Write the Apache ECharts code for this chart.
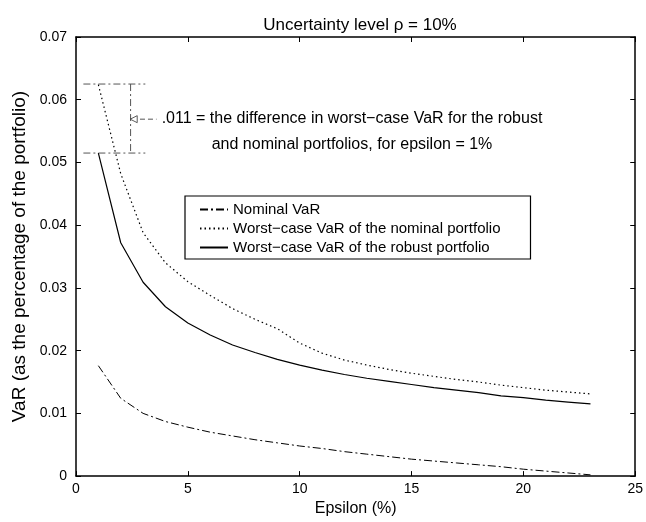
<!DOCTYPE html>
<html>
<head>
<meta charset="utf-8">
<script src="https://cdn.jsdelivr.net/npm/echarts@6/dist/echarts.min.js"></script>
<style>html,body{margin:0;padding:0;background:#fff}#c{width:646px;height:522px}</style>
</head>
<body>
<div id="c"></div>
<script>
const epsilon = [1,2,3,4,5,6,7,8,9,10,11,12,13,14,15,16,17,18,19,20,21,22,23];
const nominalVaR = [0.0176,0.0124,0.0100,0.0087,0.0078,0.0070,0.0064,0.0058,0.0053,0.0048,0.0044,0.0039,0.0035,0.0031,0.0027,0.0024,0.0021,0.0018,0.0015,0.0011,0.0008,0.0005,0.0002];
const worstNominal = [0.0624,0.0482,0.0388,0.0340,0.0310,0.0288,0.0267,0.0250,0.0235,0.0212,0.0196,0.0185,0.0177,0.0170,0.0164,0.0159,0.0154,0.0150,0.0145,0.0141,0.0137,0.0134,0.0131];
const worstRobust = [0.0515,0.0372,0.0309,0.0270,0.0244,0.0225,0.0209,0.0197,0.0186,0.0177,0.0169,0.0162,0.0156,0.0151,0.0146,0.0141,0.0137,0.0133,0.0128,0.0125,0.0121,0.0118,0.0115];
const seriesNames = ['Nominal VaR','Worst\u2212case VaR of the nominal portfolio','Worst\u2212case VaR of the robust portfolio'];
const xTicks = [0,5,10,15,20,25];
const yTicks = [0,0.01,0.02,0.03,0.04,0.05,0.06,0.07];
// annotation geometry (data units)
const annoTop = 0.0625, annoBottom = 0.0515;
const annoXStart = 0.33, annoXEnd = 3.1, annoVx = 2.44;
const arrowY = 0.0569, arrowLineX = [2.86, 3.6];
const annoText = '.011 = the difference in worst\u2212case VaR for the robust\nand nominal portfolios, for epsilon = 1%';
const titleText = 'Uncertainty level \u03c1 = 10%';

const font = '"Liberation Sans", Arial, Helvetica, sans-serif';
const chart = echarts.init(document.getElementById('c'), null, {renderer:'canvas'});
const pair = (xs, ys) => xs.map((x,i)=>[x, ys[i]]);
const annoStyle = {color:'#555', width:1, type:[7,3,2,3]};
const option = {
  animation:false,
  backgroundColor:'#fff',
  title:{text:titleText, left:355, top:12, textAlign:'center', textStyle:{fontFamily:font, fontSize:17, fontWeight:'normal', color:'#000'}},
  grid:{left:76, right:10, top:37, bottom:44},
  legend:{
    orient:'vertical', left:185, top:196,
    data:seriesNames,
    backgroundColor:'#fff', borderColor:'#000', borderWidth:1.2,
    padding:[6,30,4,14], itemGap:4, itemWidth:28, itemHeight:14,
    itemStyle:{opacity:0},
    textStyle:{fontFamily:font, fontSize:15, color:'#000'}
  },
  xAxis:[{
    type:'value', min:0, max:25, interval:5, position:'bottom',
    name:'Epsilon (%)', nameLocation:'middle', nameGap:22,
    nameTextStyle:{fontFamily:font, fontSize:16, color:'#000'},
    axisLine:{onZero:false, lineStyle:{color:'#000', width:1.5}},
    axisTick:{inside:true, length:5, lineStyle:{color:'#000'}},
    axisLabel:{fontFamily:font, fontSize:14, color:'#000', margin:6, showMaxLabel:true, showMinLabel:true},
    splitLine:{show:false}
  },{
    type:'value', min:0, max:25, interval:5, position:'top',
    axisLine:{onZero:false, lineStyle:{color:'#000', width:1.5}},
    axisTick:{inside:true, length:5, lineStyle:{color:'#000'}},
    axisLabel:{show:false}, splitLine:{show:false}
  }],
  yAxis:[{
    type:'value', min:0, max:0.07, interval:0.01, position:'left',
    name:'VaR (as the percentage of the portfolio)', nameLocation:'middle', nameGap:44,
    nameTextStyle:{fontFamily:font, fontSize:19, color:'#000'},
    axisLine:{show:true, onZero:false, lineStyle:{color:'#000', width:1.5}},
    axisTick:{show:true, inside:true, length:5, lineStyle:{color:'#000'}},
    axisLabel:{fontFamily:font, fontSize:14, color:'#000', margin:9,
      formatter:v=>{const r=Math.round(v*100)/100; return r===0?'0':r.toFixed(2);}},
    splitLine:{show:false}
  },{
    type:'value', min:0, max:0.07, interval:0.01, position:'right',
    axisLine:{show:true, onZero:false, lineStyle:{color:'#000', width:1.5}},
    axisTick:{show:true, inside:true, length:5, lineStyle:{color:'#000'}},
    axisLabel:{show:false}, splitLine:{show:false}
  }],
  graphic:[{
    type:'text', x:352, y:132,
    style:{text:annoText, fontFamily:font, fontSize:16, fill:'#000', align:'center', verticalAlign:'middle', lineHeight:26}
  }],
  series:[
    {name:seriesNames[0], type:'line', data:pair(epsilon,nominalVaR), showSymbol:false, symbol:'none', color:'#000',
      lineStyle:{color:'#000', width:1, type:[8,3,2,3]}, z:3},
    {name:seriesNames[1], type:'line', data:pair(epsilon,worstNominal), showSymbol:false, symbol:'none', color:'#000',
      lineStyle:{color:'#000', width:1.2, type:[1.5,3]}, z:3},
    {name:seriesNames[2], type:'line', data:pair(epsilon,worstRobust), showSymbol:false, symbol:'none', color:'#000',
      lineStyle:{color:'#000', width:1.2}, z:3},
    {type:'line', data:[[annoXStart,annoTop],[annoXEnd,annoTop]], symbol:'none', lineStyle:annoStyle, silent:true, z:2},
    {type:'line', data:[[annoXStart,annoBottom],[annoXEnd,annoBottom]], symbol:'none', lineStyle:annoStyle, silent:true, z:2},
    {type:'line', data:[[annoVx,annoTop],[annoVx,annoBottom]], symbol:'none', lineStyle:annoStyle, silent:true, z:2},
    {type:'line', data:[[arrowLineX[0],arrowY],[arrowLineX[1],arrowY]], symbol:'none', lineStyle:{color:'#555', width:1, type:[5,3]}, silent:true, z:2},
    {type:'scatter', data:[[annoVx + 0.14, arrowY]], symbol:'triangle', symbolSize:[7,7], symbolRotate:90,
      itemStyle:{color:'#fff', borderColor:'#333', borderWidth:1}, silent:true, z:4}
  ]
};
chart.setOption(option);
</script>
</body>
</html>
